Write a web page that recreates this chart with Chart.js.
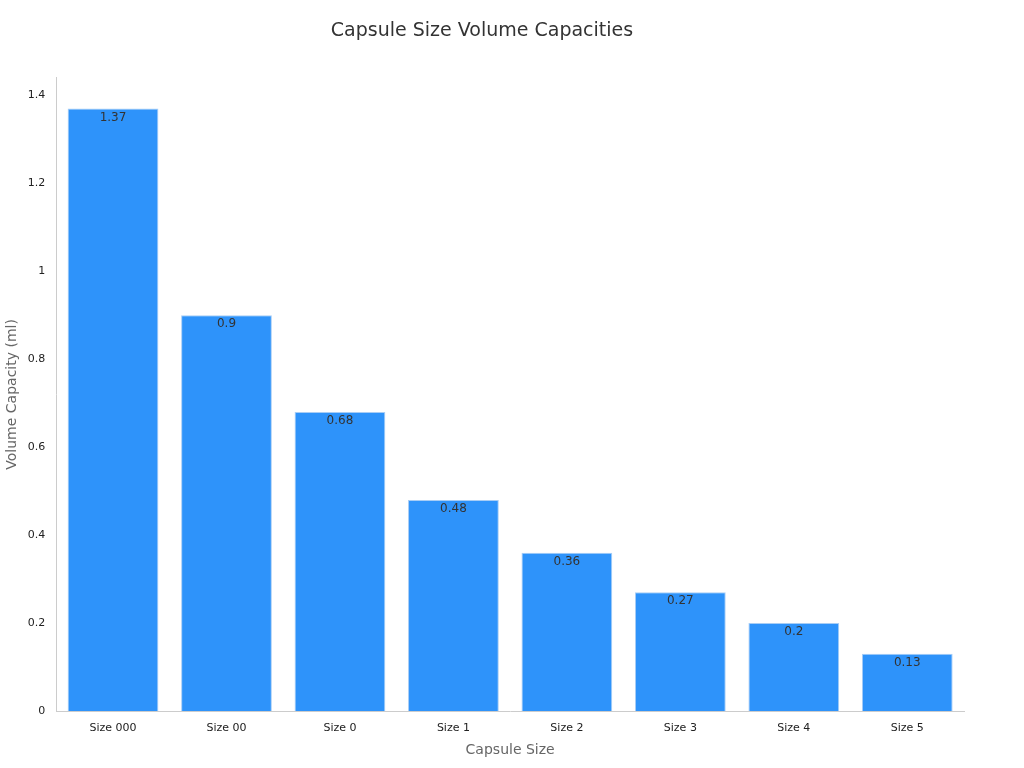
<!DOCTYPE html>
<html><head><meta charset="utf-8">
<script src="https://cdn.jsdelivr.net/npm/chart.js@4"></script>
<style>html,body{margin:0;background:#fff}#w{width:1024px;height:768px}</style>
</head><body><div id="w"><canvas id="c"></canvas></div>
<script>
const categories=["Size 000","Size 00","Size 0","Size 1","Size 2","Size 3","Size 4","Size 5"];
const volumes=[1.37,0.9,0.68,0.48,0.36,0.27,0.2,0.13];
const yTicks=[0,0.2,0.4,0.6,0.8,1,1.2,1.4];
Chart.defaults.font.family="DejaVu Sans";
const labelPlugin={id:"lbl",afterDatasetsDraw(ch){const ctx=ch.ctx;const m=ch.getDatasetMeta(0);ctx.save();ctx.font="12px DejaVu Sans";ctx.fillStyle="#333";ctx.textAlign="center";ctx.textBaseline="top";m.data.forEach((b,i)=>{ctx.fillText(String(volumes[i]),b.x,b.y+3);});ctx.restore();}};
new Chart(document.getElementById("c"),{type:"bar",
data:{labels:categories,datasets:[{data:volumes,backgroundColor:"#2e93fa",borderColor:"#a8cdf5",borderWidth:1,categoryPercentage:1,barPercentage:0.8}]},
options:{responsive:true,maintainAspectRatio:false,animation:false,
layout:{padding:{left:0,right:60,top:10,bottom:5}},
plugins:{legend:{display:false},tooltip:{enabled:false},
title:{display:true,text:"Capsule Size Volume Capacities",color:"#333",font:{size:19,weight:"normal"},padding:{top:10,bottom:35}}},
scales:{
x:{grid:{display:false},border:{color:"#ccc"},ticks:{color:"#222",font:{size:11}},title:{display:true,text:"Capsule Size",color:"#666",font:{size:14}}},
y:{min:0,max:1.44,grid:{display:false,drawTicks:true},border:{color:"#ccc"},
afterBuildTicks(s){s.ticks=yTicks.map(v=>({value:v}));},
ticks:{color:"#222",font:{size:11},callback:v=>String(v)},
title:{display:true,text:"Volume Capacity (ml)",color:"#666",font:{size:14}}}}},
plugins:[labelPlugin]});
</script></body></html>
